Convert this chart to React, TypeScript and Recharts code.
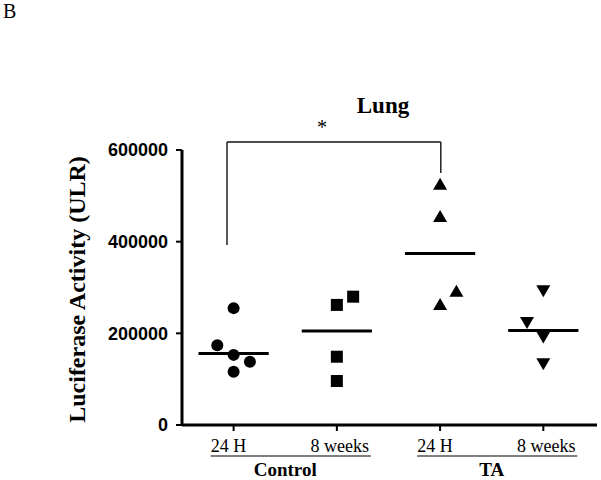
import React from "react";
import { ScatterChart, Scatter, XAxis, YAxis, ReferenceLine, ReferenceDot, Label } from "recharts";

// tick labels / groups
const categories = ["24 H", "8 weeks", "24 H", "8 weeks"];
const groups = ["Control", "TA"];
const yTicks = [0, 200000, 400000, 600000];

// values (ULR); jitter = sideways offset in the source plot
const control24h = [255000, 174000, 153000, 138000, 116000];
const control24hJitter = [0, -1, 0, 1, 0];
const control8w = [262000, 280000, 149000, 96000];
const control8wJitter = [0, 1, 0, 0];
const ta24h = [524000, 454000, 291000, 262000];
const ta24hJitter = [0, 0, 1, 0];
const ta8w = [294000, 225000, 193000, 135000];
const ta8wJitter = [0, -1, 0, 0];
const medians = [156000, 205000, 374000, 206000];

// significance bracket between Control 24 H and TA 24 H
const bracket = { from: 0.936, to: 3.007, top: 617500, leftEnd: 392700, rightEnd: 549800 };
const starPos = { x: 1.856, y: 636000 };

const X_DOMAIN: [number, number] = [0.5, 4.52];
const Y_DOMAIN: [number, number] = [0, 600000];
const PLOT_W = 415;
const unitPx = PLOT_W / (X_DOMAIN[1] - X_DOMAIN[0]);
const JIT = 0.158;

const toPoints = (vals: number[], jit: number[], pos: number) =>
  vals.map((v, i) => ({ x: pos + jit[i] * JIT, y: v }));

const serif = "'Liberation Serif', 'Times New Roman', serif";
const sans = "'Liberation Sans', Arial, sans-serif";

const Circle = (p: any) => <circle cx={p.cx} cy={p.cy} r={6} fill="#000" />;
const Square = (p: any) => <rect x={p.cx - 6} y={p.cy - 6} width={12} height={12} fill="#000" />;
const TriUp = (p: any) => (
  <path d={`M${p.cx},${p.cy - 7}L${p.cx + 7},${p.cy + 5}L${p.cx - 7},${p.cy + 5}Z`} fill="#000" />
);
const TriDown = (p: any) => (
  <path d={`M${p.cx},${p.cy + 7}L${p.cx + 7},${p.cy - 5}L${p.cx - 7},${p.cy - 5}Z`} fill="#000" />
);

const XTick = (props: any) => {
  const { x, y, payload } = props;
  const idx = Math.round(payload.value) - 1;
  const first = idx % 2 === 0;
  const dx = first ? -5 : 3;
  return (
    <g>
      <text x={x + dx} y={y + 19} textAnchor="middle" fontFamily={serif} fontSize={18} fill="#000" stroke="none">
        {categories[idx]}
      </text>
      {first && (
        <>
          <line x1={x - 23} x2={x + unitPx + 34} y1={y + 23} y2={y + 23} stroke="#000" strokeWidth={1.2} />
          <text
            x={x + unitPx / 2}
            y={y + 43}
            textAnchor="middle"
            fontFamily={serif}
            fontWeight="bold"
            fontSize={19}
            fill="#000"
            stroke="none"
          >
            {groups[idx / 2]}
          </text>
        </>
      )}
    </g>
  );
};

const YLabel = (props: any) => {
  const vb = props.viewBox;
  const cx = vb.x + 77;
  const cy = vb.y + vb.height / 2 + 2;
  return (
    <text
      x={cx}
      y={cy}
      transform={`rotate(-90, ${cx}, ${cy})`}
      textAnchor="middle"
      dominantBaseline="central"
      fontFamily={serif}
      fontWeight="bold"
      fontSize={24}
      fill="#000"
    >
      Luciferase Activity (ULR)
    </text>
  );
};

const Star = (p: any) => (
  <text x={p.cx} y={p.cy} textAnchor="middle" fontFamily={serif} fontSize={20} fill="#000" stroke="none">
    *
  </text>
);

export default function App() {
  const seg = (a: any, b: any, key: string, color: string, w: number) => (
    <ReferenceLine key={key} segment={[a, b]} stroke={color} strokeWidth={w} ifOverflow="visible" />
  );
  return (
    <div style={{ position: "absolute", left: 0, top: 0, width: 601, height: 480, background: "#fff" }}>
      <div style={{ position: "absolute", left: 3, top: 0, fontFamily: serif, fontSize: 20, color: "#000" }}>B</div>
      <div
        style={{
          position: "absolute",
          left: 333,
          width: 100,
          top: 93,
          textAlign: "center",
          fontFamily: serif,
          fontWeight: "bold",
          fontSize: 23,
          color: "#000",
        }}
      >
        Lung
      </div>
      <ScatterChart width={601} height={480} margin={{ top: 150, right: 4, bottom: 0, left: 0 }}>
        <XAxis
          type="number"
          dataKey="x"
          domain={X_DOMAIN}
          ticks={[1, 2, 3, 4]}
          allowDataOverflow
          height={55}
          stroke="#000"
          axisLine={false}
          tickLine={{ stroke: "#000", strokeWidth: 2 }}
          tickSize={6}
          tick={<XTick />}
        />
        <YAxis
          type="number"
          dataKey="y"
          domain={Y_DOMAIN}
          ticks={yTicks}
          width={182}
          stroke="#000"
          axisLine={false}
          tickLine={{ stroke: "#000", strokeWidth: 2 }}
          tickSize={6}
          tickMargin={8}
          tick={{ fontFamily: sans, fontWeight: "bold", fontSize: 18, fill: "#000" }}
        >
          <Label content={<YLabel />} />
        </YAxis>
        {/* heavy axis lines, as in the source figure */}
        {seg({ x: X_DOMAIN[0], y: 0 }, { x: X_DOMAIN[1], y: 0 }, "ax", "#000", 3)}
        {seg({ x: X_DOMAIN[0], y: 0 }, { x: X_DOMAIN[0], y: Y_DOMAIN[1] }, "ay", "#000", 3)}
        {medians.map((m, i) => seg({ x: i + 1 - 0.34, y: m }, { x: i + 1 + 0.34, y: m }, `m${i}`, "#000", 3))}
        {seg({ x: bracket.from, y: bracket.leftEnd }, { x: bracket.from, y: bracket.top }, "b1", "#111", 1.4)}
        {seg({ x: bracket.from, y: bracket.top }, { x: bracket.to, y: bracket.top }, "b2", "#111", 1.4)}
        {seg({ x: bracket.to, y: bracket.top }, { x: bracket.to, y: bracket.rightEnd }, "b3", "#111", 1.4)}
        <ReferenceDot x={starPos.x} y={starPos.y} r={0} ifOverflow="visible" shape={<Star />} />
        <Scatter data={toPoints(control24h, control24hJitter, 1)} shape={<Circle />} isAnimationActive={false} />
        <Scatter data={toPoints(control8w, control8wJitter, 2)} shape={<Square />} isAnimationActive={false} />
        <Scatter data={toPoints(ta24h, ta24hJitter, 3)} shape={<TriUp />} isAnimationActive={false} />
        <Scatter data={toPoints(ta8w, ta8wJitter, 4)} shape={<TriDown />} isAnimationActive={false} />
      </ScatterChart>
    </div>
  );
}
